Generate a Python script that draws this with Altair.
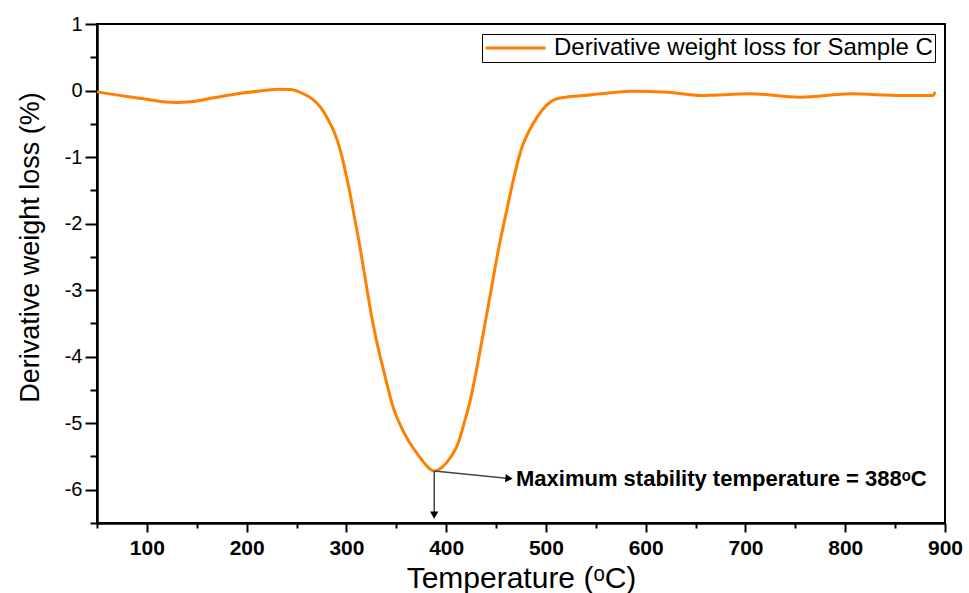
import altair as alt
import pandas as pd

# Curve
temps = [50, 80, 100, 116, 130, 144, 167, 194, 211, 234, 244, 257, 266, 274, 281,
         287, 293, 298, 303, 308, 313, 318, 323, 330, 338, 346, 358, 373, 381, 388,
         396, 405, 412, 418, 425, 431, 438, 445, 452, 460, 468, 476, 484, 492, 500,
         508, 520, 538, 560, 588, 622, 655, 705, 755, 806, 856, 888, 890]
values = [-0.02, -0.09, -0.13, -0.17, -0.18, -0.17, -0.11, -0.04, -0.01, 0.02, 0.015,
          -0.05, -0.13, -0.25, -0.42, -0.6, -0.85, -1.15, -1.5, -1.9, -2.3, -2.75, -3.2,
          -3.75, -4.25, -4.72, -5.15, -5.5, -5.65, -5.72, -5.66, -5.5, -5.3, -5.0, -4.6,
          -4.15, -3.58, -3.0, -2.42, -1.85, -1.3, -0.85, -0.58, -0.38, -0.23, -0.14,
          -0.1, -0.075, -0.04, -0.01, -0.025, -0.075, -0.05, -0.1, -0.05, -0.075,
          -0.075, -0.02]
series_name = "Derivative weight loss for Sample C"

# Annotation
peak_T = 388
peak_v = -5.72
down_arrow_v = -6.38
right_arrow_T = 463
right_arrow_v = -5.83
label_T = 470
label_v = -5.84
label_text = "Maximum stability temperature = 388ᵒC"

x_ticks = [50, 100, 150, 200, 250, 300, 350, 400, 450, 500, 550, 600, 650, 700, 750, 800, 850, 900]
y_major = [-6, -5, -4, -3, -2, -1, 0, 1]
y_minor = [-6.5, -5.5, -4.5, -3.5, -2.5, -1.5, -0.5, 0.5]

df = pd.DataFrame({"T": temps, "v": values, "series": series_name})

xscale = alt.Scale(domain=[50, 900], nice=False, zero=False)
yscale = alt.Scale(domain=[-6.5, 1], nice=False, zero=False)

xaxis = alt.Axis(
    values=x_ticks,
    title="Temperature (ᵒC)",
    titleFont="Liberation Sans", titleFontSize=30, titleFontWeight="normal",
    titleColor="black", titleX=424, titleY=55, titleBaseline="middle",
    labelExpr="datum.value % 100 === 0 ? '' + datum.value : ''",
    labelFont="Liberation Sans", labelFontSize=21, labelFontWeight="bold",
    labelColor="black", labelPadding=5, labelFlush=False,
    tickSize={"condition": {"test": "datum.value % 100 === 0", "value": 9}, "value": 5},
    tickWidth=2, tickColor="black", domainColor="black", domainWidth=2.5,
    grid=False, orient="bottom",
)
yaxis_major = alt.Axis(
    values=y_major,
    title="Derivative weight loss (%)",
    titleFont="Liberation Sans", titleFontSize=27, titleFontWeight="normal",
    titleColor="black", titleX=-67, titleY=223, titleBaseline="middle",
    labelExpr="'' + datum.value",
    labelFont="Liberation Sans", labelFontSize=20, labelFontWeight="normal",
    labelColor="black", labelPadding=3, labelFlush=False, labelOverlap=False,
    tickSize=12, tickWidth=2, tickColor="black",
    domainColor="black", domainWidth=2.5,
    grid=False, orient="left",
)
yaxis_minor = alt.Axis(
    values=y_minor, title=None, labels=False, domain=False,
    tickSize=7, tickWidth=2, tickColor="black", grid=False, orient="left",
)

line = alt.Chart(df).mark_line(strokeWidth=3, interpolate="monotone").encode(
    x=alt.X("T:Q", scale=xscale, axis=xaxis),
    y=alt.Y("v:Q", scale=yscale, axis=yaxis_major),
    color=alt.Color("series:N",
                    scale=alt.Scale(domain=[series_name], range=["#FF8000"]),
                    legend=alt.Legend(title=None, orient="top-right", offset=10,
                                      strokeColor="black", fillColor="white",
                                      padding=2, symbolType="stroke",
                                      symbolSize=3600, symbolStrokeWidth=3,
                                      clipHeight=24,
                                      labelFont="Liberation Sans", labelFontSize=24,
                                      labelColor="black", labelOffset=7,
                                      labelLimit=700)),
)

minor = alt.Chart(df).mark_point(opacity=0).encode(
    x=alt.X("T:Q", scale=xscale, axis=xaxis),
    y=alt.Y("v:Q", scale=yscale, axis=yaxis_minor),
)

vdf = pd.DataFrame({"T": [peak_T], "v": [peak_v], "v2": [down_arrow_v]})
vrule = alt.Chart(vdf).mark_rule(color="#444444", strokeWidth=1.5).encode(
    x="T:Q", y=alt.Y("v:Q", axis=None), y2="v2:Q")

ddf = pd.DataFrame({"T": [peak_T], "v": [peak_v], "T2": [right_arrow_T], "v2": [right_arrow_v]})
drule = alt.Chart(ddf).mark_rule(color="#444444", strokeWidth=1.5).encode(
    x="T:Q", y=alt.Y("v:Q", axis=None), x2="T2:Q", y2="v2:Q")

head_down = alt.Chart(pd.DataFrame({"T": [peak_T], "v": [down_arrow_v]})).mark_point(
    shape="triangle-down", filled=True, color="black", size=70, opacity=1).encode(
    x="T:Q", y=alt.Y("v:Q", axis=None))
head_right = alt.Chart(pd.DataFrame({"T": [right_arrow_T], "v": [right_arrow_v]})).mark_point(
    shape="triangle-right", filled=True, color="black", size=70, opacity=1, angle=6).encode(
    x="T:Q", y=alt.Y("v:Q", axis=None))

text = alt.Chart(pd.DataFrame({"T": [label_T], "v": [label_v], "t": [label_text]})).mark_text(
    align="left", baseline="middle", font="Liberation Sans", fontSize=22,
    fontWeight="bold", color="black").encode(
    x="T:Q", y=alt.Y("v:Q", axis=None), text="t:N")

chart = alt.layer(line, minor, vrule, drule, head_down, head_right, text).resolve_axis(
    y="independent"
).properties(
    width=848, height=499,
    padding={"left": 97, "top": 24, "right": 24, "bottom": 70},
    autosize=alt.AutoSizeParams(type="none"),
    background="white",
).configure_view(stroke="black", strokeWidth=2)

chart.save("out.html", embed_options={"renderer": "svg", "actions": False})
